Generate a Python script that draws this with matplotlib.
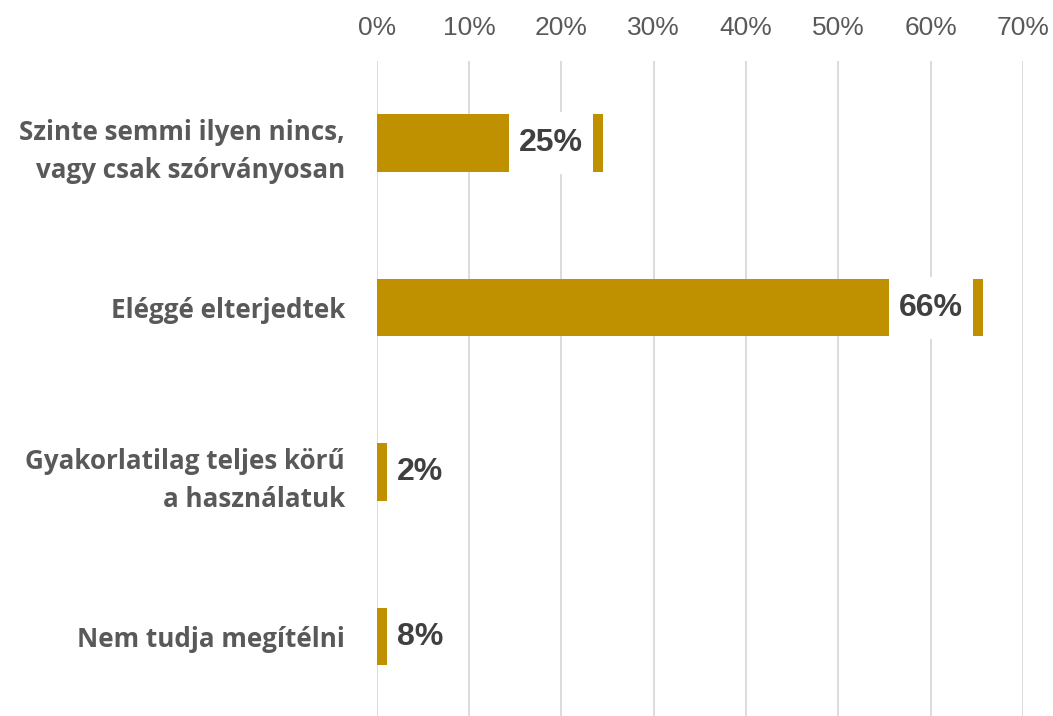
import matplotlib
matplotlib.use("Agg")
import matplotlib.pyplot as plt
from matplotlib.path import Path
from matplotlib.ticker import PercentFormatter

categories = [
    "Szinte semmi ilyen nincs,\nvagy csak szórványosan",
    "Eléggé elterjedtek",
    "Gyakorlatilag teljes körű\na használatuk",
    "Nem tudja megítélni",
]
values = [24.5, 65.7, 2.0, 8.0]
value_labels = ["25%", "66%", "2%", "8%"]

bar_color = "#BF9000"
label_color = "#404040"
cat_color = "#595959"
grid_color = "#D9D9D9"


def label_box(x0, y0, width, height, mutation_size):
    # white rectangle, 10px wider on each side, tall enough to hide the bar
    padx = 10
    cy = y0 + height / 2
    h = 31
    pts = [(x0 - padx, cy - h), (x0 + width + padx, cy - h),
           (x0 + width + padx, cy + h), (x0 - padx, cy + h), (x0 - padx, cy - h)]
    return Path(pts, closed=True)


def main():
    fig = plt.figure(figsize=(10.53, 7.16), dpi=100)
    ax = fig.add_axes([0.358, -0.004, 0.6133, 0.919])

    pos = list(range(len(categories)))
    ax.barh(pos, values, height=0.35, color=bar_color, zorder=2)
    ax.set_ylim(3.5, -0.5)
    ax.set_xlim(0, 70)
    ax.set_xticks(range(0, 71, 10))
    ax.xaxis.set_major_formatter(PercentFormatter(decimals=0))
    ax.xaxis.tick_top()
    ax.tick_params(axis="x", length=0, pad=15, labelsize=19, labelcolor=cat_color)
    for t in ax.get_xticklabels():
        t.set_family("Liberation Sans")

    ax.set_yticks(pos)
    ax.set_yticklabels(categories, fontsize=18.7, fontweight="bold",
                       color=cat_color, family="Open Sans", linespacing=1.5)
    ax.tick_params(axis="y", length=0, pad=23)

    ax.grid(axis="x", color=grid_color, linewidth=1.3, zorder=0)
    ax.set_axisbelow(True)
    for s in ax.spines.values():
        s.set_visible(False)

    # data labels: white box ending 10px before bar end, kept 10px off the axis start
    box = dict(boxstyle=label_box, facecolor="white", edgecolor="none")
    texts = []
    for i, (v, lab) in enumerate(zip(values, value_labels)):
        t = ax.annotate(lab, xy=(v, i), xytext=(-20, 0), textcoords="offset pixels",
                        ha="right", va="center", fontsize=23, fontweight="bold",
                        color=label_color, family="Liberation Sans", bbox=box, zorder=3)
        texts.append(t)
    fig.canvas.draw()
    r = fig.canvas.get_renderer()
    x0 = ax.transData.transform((0, 0))[0]
    for i, t in enumerate(texts):
        ext = t.get_window_extent(r)
        if ext.x0 - 10 < x0 + 10:
            t.xy = (0, i)
            t.set_position((20, 0))
            t.set_ha("left")

    fig.savefig("out.png", dpi=100)


if __name__ == "__main__":
    main()
